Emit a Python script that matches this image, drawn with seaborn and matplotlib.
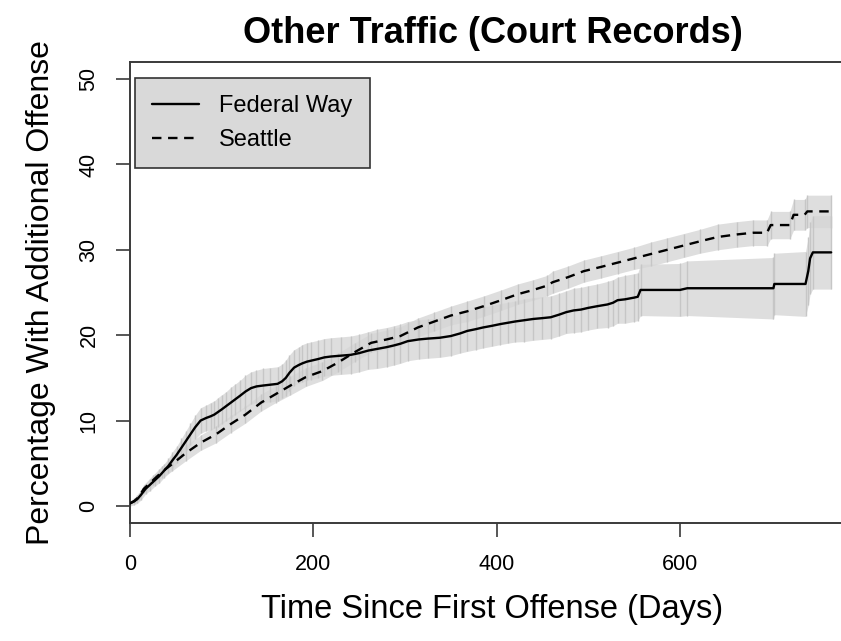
import numpy as np
import pandas as pd
import matplotlib
matplotlib.use("Agg")
import matplotlib.pyplot as plt
import seaborn as sns
from matplotlib.lines import Line2D

# ---------------- data ----------------
fw_days = [0, 4, 8, 12, 17, 22, 27, 32, 37, 42, 46, 51, 56, 61, 66, 71, 77, 83, 88,
           92, 96, 100, 105, 110, 115, 120, 126, 132, 138, 145, 153, 161, 166, 170,
           174, 179, 184, 188, 193, 197, 205, 212, 219, 230, 241, 250, 260, 270,
           280, 288, 295, 303, 315, 325, 338, 350, 360, 368, 377, 385, 395, 404,
           412, 420, 430, 440, 450, 459, 468, 476, 484, 492, 500, 510, 521, 527,
           532, 540, 550, 554, 557, 600, 608, 702, 703, 737, 740, 742, 745, 765]
fw_pct = [0.3, 0.5, 0.8, 1.3, 2.0, 2.5, 3.0, 3.5, 4.1, 4.7, 5.3, 6.0, 6.8, 7.6, 8.4,
          9.2, 10.0, 10.3, 10.5, 10.7, 11.0, 11.3, 11.7, 12.1, 12.5, 12.9, 13.4,
          13.8, 14.0, 14.1, 14.2, 14.3, 14.6, 15.0, 15.6, 16.2, 16.5, 16.7, 16.9,
          17.0, 17.2, 17.4, 17.5, 17.6, 17.7, 17.9, 18.2, 18.4, 18.6, 18.8, 19.0,
          19.3, 19.5, 19.6, 19.7, 19.9, 20.2, 20.5, 20.7, 20.9, 21.1, 21.3, 21.45,
          21.6, 21.75, 21.9, 22.0, 22.1, 22.4, 22.7, 22.9, 23.0, 23.2, 23.4, 23.6,
          23.8, 24.1, 24.2, 24.4, 24.5, 25.3, 25.3, 25.5, 25.5, 26.0, 26.0, 27.5,
          29.0, 29.7, 29.7]
fw_half = [0.3, 0.4, 0.5, 0.6, 0.6, 0.7, 0.7, 0.8, 0.8, 0.9, 1.0, 1.0, 1.1, 1.2,
           1.3, 1.4, 1.5, 1.5, 1.6, 1.6, 1.7, 1.7, 1.7, 1.8, 1.8, 1.8, 1.9, 1.9,
           1.9, 2.0, 2.0, 2.0, 2.0, 2.1, 2.1, 2.1, 2.1, 2.2, 2.2, 2.2, 2.2, 2.2,
           2.2, 2.2, 2.2, 2.2, 2.2, 2.3, 2.3, 2.3, 2.3, 2.3, 2.3, 2.3, 2.3, 2.3,
           2.3, 2.4, 2.4, 2.4, 2.4, 2.4, 2.4, 2.4, 2.5, 2.5, 2.5, 2.5, 2.5, 2.5,
           2.6, 2.6, 2.6, 2.6, 2.7, 2.7, 2.7, 2.8, 2.8, 2.8, 3.0, 3.1, 3.2, 3.6,
           3.6, 3.8, 4.0, 4.2, 4.3, 4.3]

sea_days = [0, 5, 10, 15, 25, 35, 46, 61, 77, 94, 110, 126, 143, 159, 175, 192,
            210, 227, 245, 263, 280, 295, 314, 332, 350, 368, 386, 405, 423, 440,
            455, 461, 478, 495, 514, 532, 550, 568, 586, 604, 622, 641, 662, 680,
            695, 699, 720, 724, 736, 739, 765]
sea_pct = [0.3, 0.6, 1.1, 2.0, 3.0, 4.0, 4.9, 6.2, 7.4, 8.4, 9.6, 10.7, 12.1, 13.1,
           14.1, 15.1, 15.8, 16.8, 18.0, 19.1, 19.5, 19.9, 20.9, 21.6, 22.3, 22.8,
           23.4, 24.1, 24.8, 25.3, 25.8, 26.2, 26.8, 27.5, 28.0, 28.5, 29.0, 29.5,
           30.0, 30.5, 31.0, 31.5, 31.8, 32.0, 32.0, 32.9, 32.9, 34.1, 34.1, 34.5,
           34.5]
sea_half = [0.2, 0.3, 0.4, 0.5, 0.6, 0.7, 0.8, 0.9, 0.9, 1.0, 1.0, 1.0, 1.0, 1.0,
            1.1, 1.1, 1.1, 1.1, 1.1, 1.1, 1.1, 1.1, 1.1, 1.1, 1.1, 1.2, 1.2, 1.2,
            1.2, 1.2, 1.2, 1.3, 1.3, 1.3, 1.3, 1.3, 1.3, 1.4, 1.4, 1.4, 1.4, 1.5,
            1.5, 1.5, 1.5, 1.6, 1.6, 1.8, 1.8, 1.9, 1.9]

x_ticks = [0, 200, 400, 600]
y_ticks = [0, 10, 20, 30, 40, 50]
series_names = ["Federal Way", "Seattle"]

fw = pd.DataFrame({"days": fw_days, "pct": fw_pct, "half": fw_half})
sea = pd.DataFrame({"days": sea_days, "pct": sea_pct, "half": sea_half})
for df in (fw, sea):
    df["lo"] = df["pct"] - df["half"]
    df["hi"] = df["pct"] + df["half"]

# ---------------- style ----------------
sns.set_theme(style="white")
plt.rcParams["font.family"] = ["Liberation Sans", "DejaVu Sans"]
plt.rcParams["text.color"] = "black"
plt.rcParams["axes.labelcolor"] = "black"

fig = plt.figure(figsize=(8.41, 6.41), dpi=100)
ax = fig.add_axes([130 / 841, (641 - 523) / 641, (855 - 130) / 841, (523 - 62) / 641])

band_col = "#d6d6d6"
for df in (sea, fw):
    ax.fill_between(df["days"], df["lo"], df["hi"], color=band_col, alpha=0.8,
                    lw=0, zorder=1)
    ax.vlines(df["days"], df["lo"], df["hi"], color="#c6c6c6", lw=1.0, zorder=1.5)

dash = (0, (4, 2.8))
sns.lineplot(data=fw, x="days", y="pct", ax=ax, color="black", lw=1.7,
             estimator=None, errorbar=None, sort=False, zorder=3)
sns.lineplot(data=sea, x="days", y="pct", ax=ax, color="black", lw=1.7,
             estimator=None, errorbar=None, sort=False, zorder=3,
             linestyle=dash)

ax.set_xlim(0, 791)
ax.set_ylim(-2, 52)
ax.set_xticks(x_ticks)
ax.set_yticks(y_ticks)
ax.set_xticklabels([str(v) for v in x_ticks])
ax.set_yticklabels([str(v) for v in y_ticks], rotation=90, va="center")

spine_col = "#3a3a3a"
for s in ("left", "bottom", "top"):
    ax.spines[s].set_visible(True)
    ax.spines[s].set_color(spine_col)
    ax.spines[s].set_linewidth(1.4)
ax.spines["right"].set_visible(False)
ax.tick_params(axis="both", direction="out", length=10, width=1.2, color=spine_col,
               labelcolor="black", labelsize=15.5, pad=12, bottom=True, left=True)

ax.set_xlabel("Time Since First Offense (Days)", fontsize=23.5, labelpad=14)
ax.set_ylabel("Percentage With Additional Offense", fontsize=23, labelpad=16)
ax.set_title("Other Traffic (Court Records)", fontsize=26, fontweight="bold", pad=14)

handles = [Line2D([0], [0], color="black", lw=1.7),
           Line2D([0], [0], color="black", lw=1.7, linestyle=dash)]
leg = ax.legend(handles, series_names, loc="upper left",
                bbox_to_anchor=(0.007, 0.965), fontsize=17, frameon=True,
                fancybox=False, framealpha=1, facecolor="#d9d9d9",
                edgecolor="#333333", borderpad=0.72, handlelength=2.0,
                handletextpad=0.85, labelspacing=0.5, borderaxespad=0)
leg.get_frame().set_linewidth(1.2)
for t in leg.get_texts():
    t.set_color("black")

fig.savefig("out.png", dpi=100)
